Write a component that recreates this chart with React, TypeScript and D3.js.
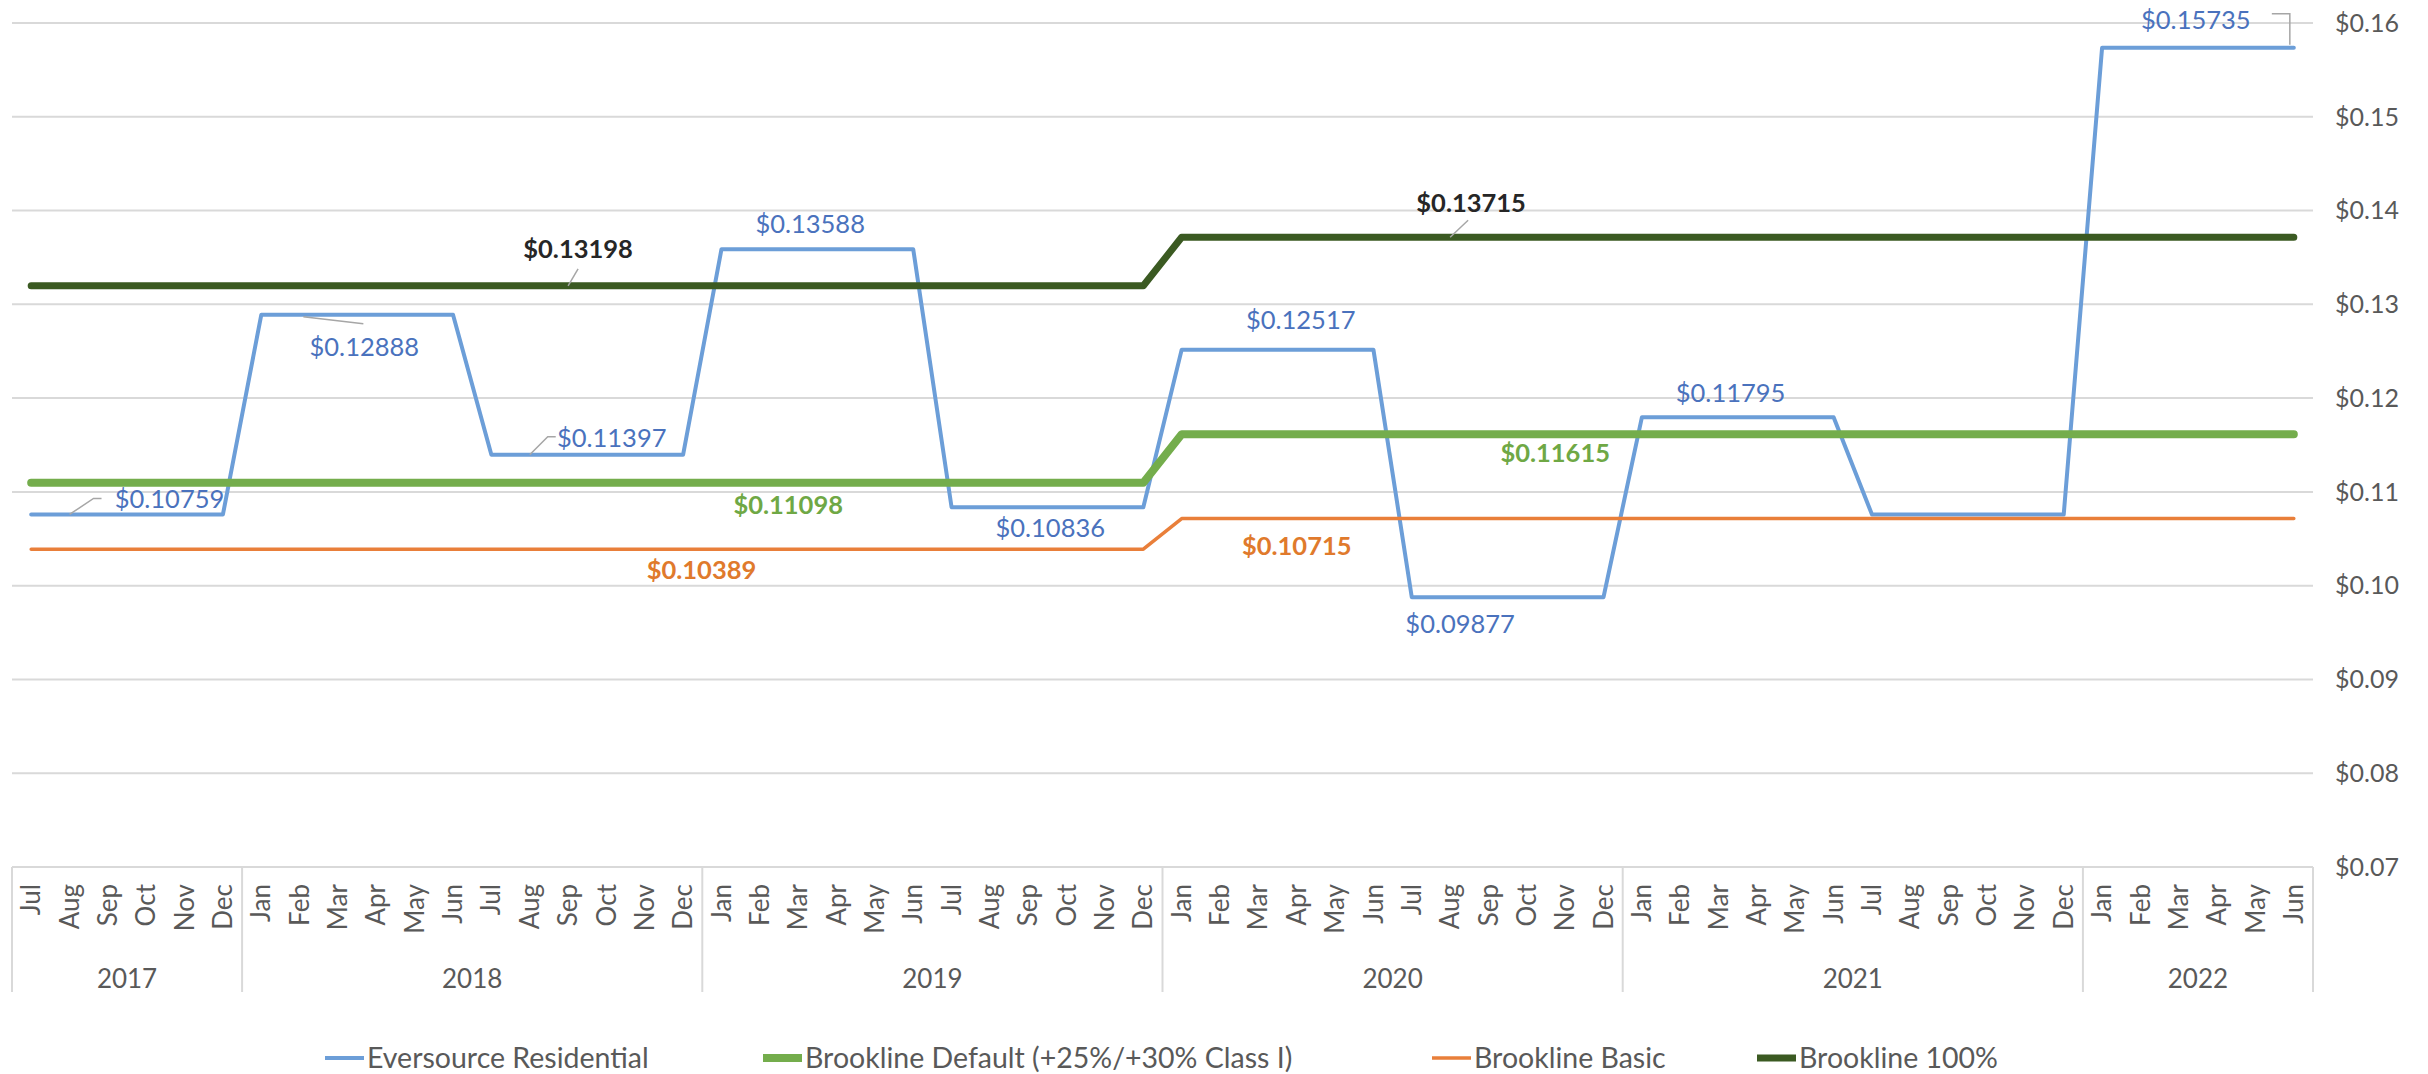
import React from 'react';
import * as d3 from 'd3';

const monthLabels = [
  'Jul', 'Aug', 'Sep', 'Oct', 'Nov', 'Dec',
  'Jan', 'Feb', 'Mar', 'Apr', 'May', 'Jun', 'Jul', 'Aug', 'Sep', 'Oct', 'Nov', 'Dec',
  'Jan', 'Feb', 'Mar', 'Apr', 'May', 'Jun', 'Jul', 'Aug', 'Sep', 'Oct', 'Nov', 'Dec',
  'Jan', 'Feb', 'Mar', 'Apr', 'May', 'Jun', 'Jul', 'Aug', 'Sep', 'Oct', 'Nov', 'Dec',
  'Jan', 'Feb', 'Mar', 'Apr', 'May', 'Jun', 'Jul', 'Aug', 'Sep', 'Oct', 'Nov', 'Dec',
  'Jan', 'Feb', 'Mar', 'Apr', 'May', 'Jun',
];

const years = ['2017', '2018', '2019', '2020', '2021', '2022'];
const monthsPerYear = [6, 12, 12, 12, 12, 6];

const eversource = [
  0.10759, 0.10759, 0.10759, 0.10759, 0.10759, 0.10759,
  0.12888, 0.12888, 0.12888, 0.12888, 0.12888, 0.12888,
  0.11397, 0.11397, 0.11397, 0.11397, 0.11397, 0.11397,
  0.13588, 0.13588, 0.13588, 0.13588, 0.13588, 0.13588,
  0.10836, 0.10836, 0.10836, 0.10836, 0.10836, 0.10836,
  0.12517, 0.12517, 0.12517, 0.12517, 0.12517, 0.12517,
  0.09877, 0.09877, 0.09877, 0.09877, 0.09877, 0.09877,
  0.11795, 0.11795, 0.11795, 0.11795, 0.11795, 0.11795,
  0.10759, 0.10759, 0.10759, 0.10759, 0.10759, 0.10759,
  0.15735, 0.15735, 0.15735, 0.15735, 0.15735, 0.15735,
];

const brooklineDefault = [
  0.11098, 0.11098, 0.11098, 0.11098, 0.11098, 0.11098,
  0.11098, 0.11098, 0.11098, 0.11098, 0.11098, 0.11098,
  0.11098, 0.11098, 0.11098, 0.11098, 0.11098, 0.11098,
  0.11098, 0.11098, 0.11098, 0.11098, 0.11098, 0.11098,
  0.11098, 0.11098, 0.11098, 0.11098, 0.11098, 0.11098,
  0.11615, 0.11615, 0.11615, 0.11615, 0.11615, 0.11615,
  0.11615, 0.11615, 0.11615, 0.11615, 0.11615, 0.11615,
  0.11615, 0.11615, 0.11615, 0.11615, 0.11615, 0.11615,
  0.11615, 0.11615, 0.11615, 0.11615, 0.11615, 0.11615,
  0.11615, 0.11615, 0.11615, 0.11615, 0.11615, 0.11615,
];

const brooklineBasic = [
  0.10389, 0.10389, 0.10389, 0.10389, 0.10389, 0.10389,
  0.10389, 0.10389, 0.10389, 0.10389, 0.10389, 0.10389,
  0.10389, 0.10389, 0.10389, 0.10389, 0.10389, 0.10389,
  0.10389, 0.10389, 0.10389, 0.10389, 0.10389, 0.10389,
  0.10389, 0.10389, 0.10389, 0.10389, 0.10389, 0.10389,
  0.10715, 0.10715, 0.10715, 0.10715, 0.10715, 0.10715,
  0.10715, 0.10715, 0.10715, 0.10715, 0.10715, 0.10715,
  0.10715, 0.10715, 0.10715, 0.10715, 0.10715, 0.10715,
  0.10715, 0.10715, 0.10715, 0.10715, 0.10715, 0.10715,
  0.10715, 0.10715, 0.10715, 0.10715, 0.10715, 0.10715,
];

const brookline100 = [
  0.13198, 0.13198, 0.13198, 0.13198, 0.13198, 0.13198,
  0.13198, 0.13198, 0.13198, 0.13198, 0.13198, 0.13198,
  0.13198, 0.13198, 0.13198, 0.13198, 0.13198, 0.13198,
  0.13198, 0.13198, 0.13198, 0.13198, 0.13198, 0.13198,
  0.13198, 0.13198, 0.13198, 0.13198, 0.13198, 0.13198,
  0.13715, 0.13715, 0.13715, 0.13715, 0.13715, 0.13715,
  0.13715, 0.13715, 0.13715, 0.13715, 0.13715, 0.13715,
  0.13715, 0.13715, 0.13715, 0.13715, 0.13715, 0.13715,
  0.13715, 0.13715, 0.13715, 0.13715, 0.13715, 0.13715,
  0.13715, 0.13715, 0.13715, 0.13715, 0.13715, 0.13715,
];

const yTicks = [0.07, 0.08, 0.09, 0.10, 0.11, 0.12, 0.13, 0.14, 0.15, 0.16];

const series = [
  { name: 'Eversource Residential', values: eversource, color: '#6c9ed8', width: 4, label: '#4a72bd', bold: false },
  { name: 'Brookline Default (+25%/+30% Class I)', values: brooklineDefault, color: '#74ad4c', width: 8, label: '#6fa845', bold: true },
  { name: 'Brookline Basic', values: brooklineBasic, color: '#e97f3a', width: 3.5, label: '#e07a2c', bold: true },
  { name: 'Brookline 100%', values: brookline100, color: '#3b5a22', width: 7, label: '#262626', bold: true },
];

// data labels: series index, month index, pixel offset of text, optional leader
const labels = [
  { s: 0, i: 1, dx: 100, dy: -15, leader: [[0, 0], [24, -16], [32, -16]] },
  { s: 0, i: 9, dx: -12, dy: 32, leader: [[-73, 2], [-13, 9]] },
  { s: 0, i: 13, dx: 82, dy: -17, leader: [[0, 0], [18, -18], [26, -18]] },
  { s: 0, i: 20, dx: 12, dy: -25 },
  { s: 0, i: 26, dx: 22, dy: 21 },
  { s: 0, i: 33, dx: 4, dy: -30 },
  { s: 0, i: 37, dx: 10, dy: 27 },
  { s: 0, i: 44, dx: 12, dy: -24 },
  { s: 0, i: 59, dx: -98, dy: -28, leader: [[-4, -3], [-4, -34], [-22, -34]] },
  { s: 1, i: 20, dx: -10, dy: 22 },
  { s: 1, i: 40, dx: -10, dy: 19 },
  { s: 2, i: 18, dx: -20, dy: 21 },
  { s: 2, i: 33, dx: 0, dy: 27 },
  { s: 3, i: 14, dx: 10, dy: -37, leader: [[0, 0], [10, -17]] },
  { s: 3, i: 37, dx: 21, dy: -34, leader: [[0, 0], [18, -17]] },
];

const W = 2428;
const H = 1074;
const FONT = 'Lato, "Open Sans", sans-serif';

export default function App() {
  const left = 12;
  const right = 2313;
  const top = 23;
  const bottom = 867;

  const x = d3.scaleBand<number>().domain(d3.range(monthLabels.length)).range([left, right]);
  const bw = x.bandwidth();
  const cx = (i: number) => (x(i) as number) + bw / 2;
  const y = d3.scaleLinear().domain([0.07, 0.16]).range([bottom, top]);

  const line = d3.line<number>().x((_, i) => cx(i)).y(d => y(d));

  // year boundaries
  const bounds: number[] = [0];
  monthsPerYear.forEach(n => bounds.push(bounds[bounds.length - 1] + n));
  const edgeX = (k: number) => (k >= monthLabels.length ? right : (x(k) as number));

  const legendX = [325, 763, 1432, 1757];

  return (
    <svg width={W} height={H} style={{ position: 'absolute', left: 0, top: 0, background: '#fff' }} fontFamily={FONT}>
      <rect width={W} height={H} fill="#fff" />
      {yTicks.map(t => (
        <g key={t}>
          <line x1={left} x2={right} y1={y(t)} y2={y(t)} stroke="#d9d9d9" strokeWidth={2} />
          <text x={2335} y={y(t)} dy="0.35em" fontSize={25} fill="#595959">{d3.format('$.2f')(t)}</text>
        </g>
      ))}

      {bounds.map((b, k) => (
        <line key={k} x1={edgeX(b)} x2={edgeX(b)} y1={bottom} y2={992} stroke="#d9d9d9" strokeWidth={2} />
      ))}

      {monthLabels.map((m, i) => (
        <text key={i} transform={`translate(${cx(i)},884) rotate(-90)`} textAnchor="end" dy="0.35em" fontSize={26} fill="#595959">{m}</text>
      ))}

      {years.map((yr, k) => (
        <text key={yr} x={(edgeX(bounds[k]) + edgeX(bounds[k + 1])) / 2} y={979} textAnchor="middle" dy="0.35em" fontSize={26} fill="#595959">{yr}</text>
      ))}

      {series.map(s => (
        <path key={s.name} d={line(s.values) as string} fill="none" stroke={s.color} strokeWidth={s.width} strokeLinejoin="round" strokeLinecap="round" />
      ))}

      {labels.map((l, k) => {
        const s = series[l.s];
        const v = s.values[l.i];
        const px = cx(l.i);
        const py = y(v);
        return (
          <g key={k}>
            {l.leader && (
              <polyline points={l.leader.map(p => `${px + p[0]},${py + p[1]}`).join(' ')} fill="none" stroke="#a6a6a6" strokeWidth={1.5} />
            )}
            <text x={px + l.dx} y={py + l.dy} textAnchor="middle" dy="0.35em" fontSize={25.5} fontWeight={s.bold ? 700 : 400} fill={s.label}>
              {d3.format('$.5f')(v)}
            </text>
          </g>
        );
      })}

      {series.map((s, k) => (
        <g key={s.name} transform={`translate(${legendX[k]},1058)`}>
          <line x1={0} x2={39} y1={0} y2={0} stroke={s.color} strokeWidth={s.width} />
          <text x={42} y={0} dy="0.35em" fontSize={28.5} fill="#595959">{s.name}</text>
        </g>
      ))}
    </svg>
  );
}
